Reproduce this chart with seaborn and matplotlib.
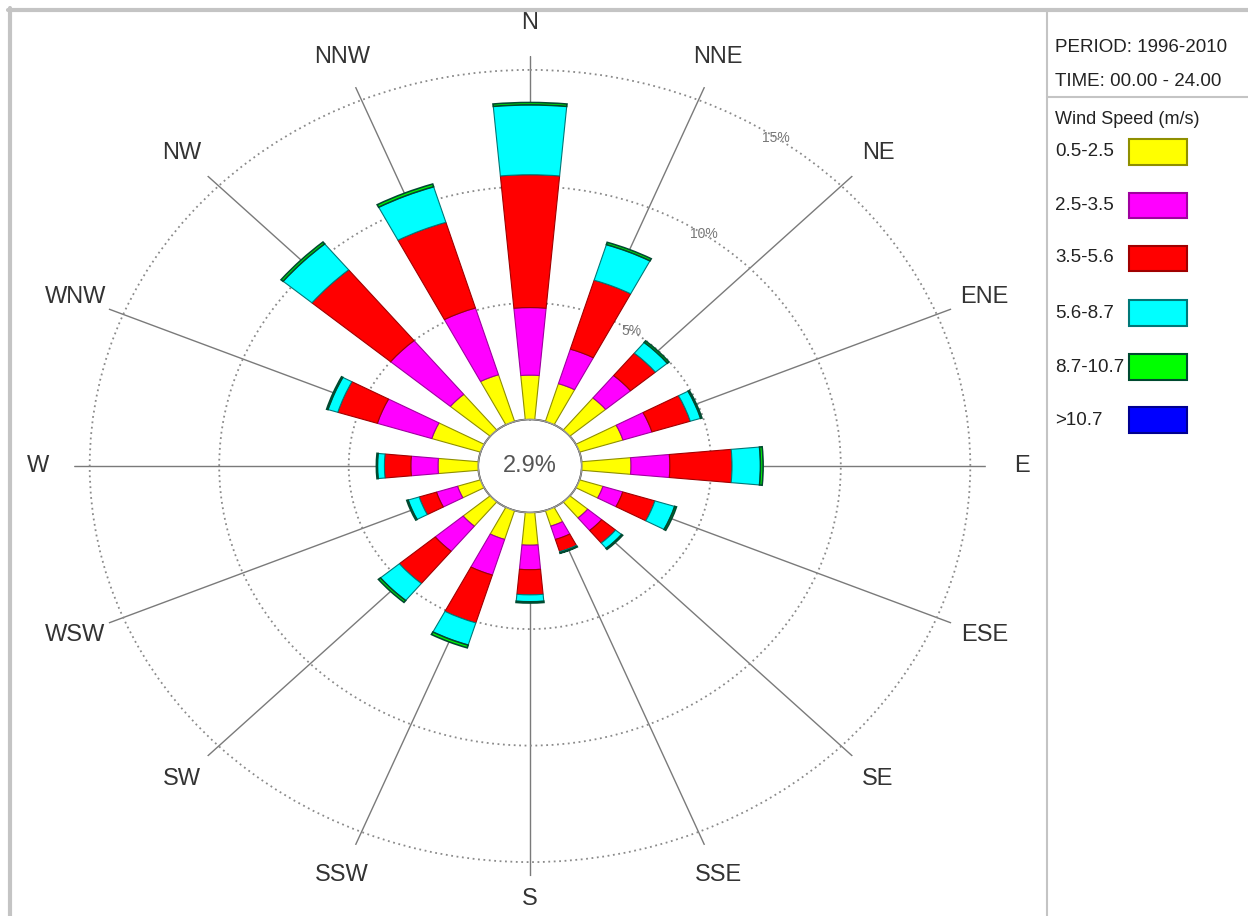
import numpy as np
import matplotlib.pyplot as plt
import seaborn as sns
from matplotlib.patches import Rectangle
from matplotlib.lines import Line2D

# Wind rose data (frequency in %)
DIRECTIONS = ["N", "NNE", "NE", "ENE", "E", "ESE", "SE", "SSE",
              "S", "SSW", "SW", "WSW", "W", "WNW", "NW", "NNW"]
SPEED_BINS = ["0.5-2.5", "2.5-3.5", "3.5-5.6", "5.6-8.7", "8.7-10.7", ">10.7"]

ws_05_25 = [1.90, 1.70, 1.80, 1.76, 1.90, 0.95, 0.90, 0.70, 1.40, 1.30, 1.36, 0.93, 1.55, 1.97, 2.00, 2.10]
ws_25_35 = [2.90, 1.55, 1.25, 1.17, 1.50, 0.80, 0.70, 0.60, 1.05, 1.60, 1.40, 0.85, 1.05, 2.20, 3.00, 3.00]
ws_35_56 = [5.70, 3.10, 1.25, 1.55, 2.40, 1.30, 0.70, 0.55, 1.08, 2.15, 1.80, 0.70, 1.02, 1.60, 3.95, 3.85]
ws_56_87 = [3.00, 1.60, 0.60, 0.42, 1.10, 0.80, 0.30, 0.05, 0.30, 1.00, 0.95, 0.45, 0.27, 0.40, 1.45, 1.60]
ws_87_107 = [0.10, 0.10, 0.08, 0.05, 0.10, 0.07, 0.05, 0.02, 0.05, 0.12, 0.10, 0.05, 0.04, 0.05, 0.10, 0.12]
ws_gt_107 = [0.00, 0.00, 0.00, 0.00, 0.00, 0.00, 0.00, 0.00, 0.00, 0.00, 0.00, 0.00, 0.00, 0.00, 0.00, 0.00]

CALM = 2.9
RINGS = [5, 10, 15]
PERIOD = "PERIOD: 1996-2010"
TIME = "TIME: 00.00 - 24.00"

sns.set_theme(style="white")
plt.rcParams["font.family"] = ["Liberation Sans", "DejaVu Sans"]

fills = sns.color_palette(["#ffff00", "#ff00ff", "#ff0000", "#00ffff", "#00ff00", "#0000ff"])
edges = ["#8f8f00", "#a000a0", "#a00000", "#007878", "#004a30", "#000090"]

W, H = 1248, 916
fig = plt.figure(figsize=(W / 100, H / 100), dpi=100)
fig.patch.set_facecolor("white")


def fx(px):
    return px / W


def fy(py):
    return 1 - py / H


# rose geometry in pixels: centre, px per % (x and y), calm circle radius in %
cx, cy = 530, 466
sx, sy = 25.9, 23.3
r0 = 2.0
rmax = 15.6
R = rmax + r0
ax = fig.add_axes([fx(cx - R * sx), fy(cy + R * sy), 2 * R * sx / W, 2 * R * sy / H],
                  projection="polar")
ax.set_aspect("auto")
ax.set_facecolor("none")
ax.set_theta_zero_location("N")
ax.set_theta_direction(-1)
ax.set_rorigin(-r0)
ax.set_ylim(0, rmax)

theta = np.deg2rad(np.arange(len(DIRECTIONS)) * 22.5)
width = np.deg2rad(10.5)
series = [ws_05_25, ws_25_35, ws_35_56, ws_56_87, ws_87_107, ws_gt_107]
bottom = np.zeros(len(DIRECTIONS))
for i, (vals, fc, ec) in enumerate(zip(series, fills, edges)):
    vals = np.asarray(vals, dtype=float)
    m = vals > 0
    if m.any():
        ax.bar(theta[m], vals[m], width=width, bottom=bottom[m], color=fc,
               edgecolor=ec, linewidth=1.2 if i == 4 else 0.8, zorder=3)
    bottom += vals

# grid: solid spokes, dotted rings
ax.set_xticks(theta)
ax.set_xticklabels([])
ax.set_yticks(RINGS)
ax.set_yticklabels([])
ax.tick_params(length=0)
ax.xaxis.grid(True, color="#7a7a7a", linewidth=1.0, linestyle="-")
ax.yaxis.grid(True, color="#8a8a8a", linewidth=1.3, linestyle=(0, (1, 2)))
ax.spines["polar"].set_visible(False)
ax.set_axisbelow(True)

# calm circle
tt = np.linspace(0, 2 * np.pi, 300)
ax.plot(tt, np.zeros_like(tt), color="#9a9a9a", linewidth=1.0, zorder=4, clip_on=False)
ax.text(0.5, 0.5, f"{CALM}%", transform=ax.transAxes, ha="center", va="center",
        fontsize=17, color="#555555", zorder=5)

# direction labels (S pulled in a little so it stays on the canvas)
for t, d in zip(theta, DIRECTIONS):
    ax.text(t, 16.6 if d == "S" else 17.0, d, ha="center", va="center", fontsize=17,
            color="#333333", clip_on=False)

# ring labels
for r in RINGS:
    ax.text(np.deg2rad(34), r, f"{r}%", ha="center", va="center", fontsize=10,
            color="#777777", zorder=2)

# frame and right panel
line_kw = dict(transform=fig.transFigure, color="#c4c4c4")
fig.add_artist(Line2D([fx(8), 1], [fy(9.5), fy(9.5)], linewidth=3, **line_kw))
fig.add_artist(Line2D([fx(10), fx(10)], [fy(8), 0], linewidth=3, **line_kw))
fig.add_artist(Line2D([fx(1047), fx(1047)], [fy(11), 0], linewidth=1.5, **line_kw))
fig.add_artist(Line2D([fx(1047), 1], [fy(97), fy(97)], linewidth=1.5, **line_kw))

fig.text(fx(1055), fy(47), PERIOD, ha="left", va="center", fontsize=13.5, color="#222222")
fig.text(fx(1055), fy(81), TIME, ha="left", va="center", fontsize=13.5, color="#222222")
fig.text(fx(1055), fy(119), "Wind Speed (m/s)", ha="left", va="center", fontsize=13,
         color="#222222")

legend_y = [152, 205, 258, 313, 367, 420]
for lab, y, fc, ec in zip(SPEED_BINS, legend_y, fills, edges):
    fig.text(fx(1055), fy(y), lab, ha="left", va="center", fontsize=13.5, color="#222222")
    fig.add_artist(Rectangle((fx(1129), fy(y + 12.5)), 58 / W, 25 / H,
                             transform=fig.transFigure, facecolor=fc, edgecolor=ec,
                             linewidth=1.5))

fig.savefig("out.png", dpi=100)
